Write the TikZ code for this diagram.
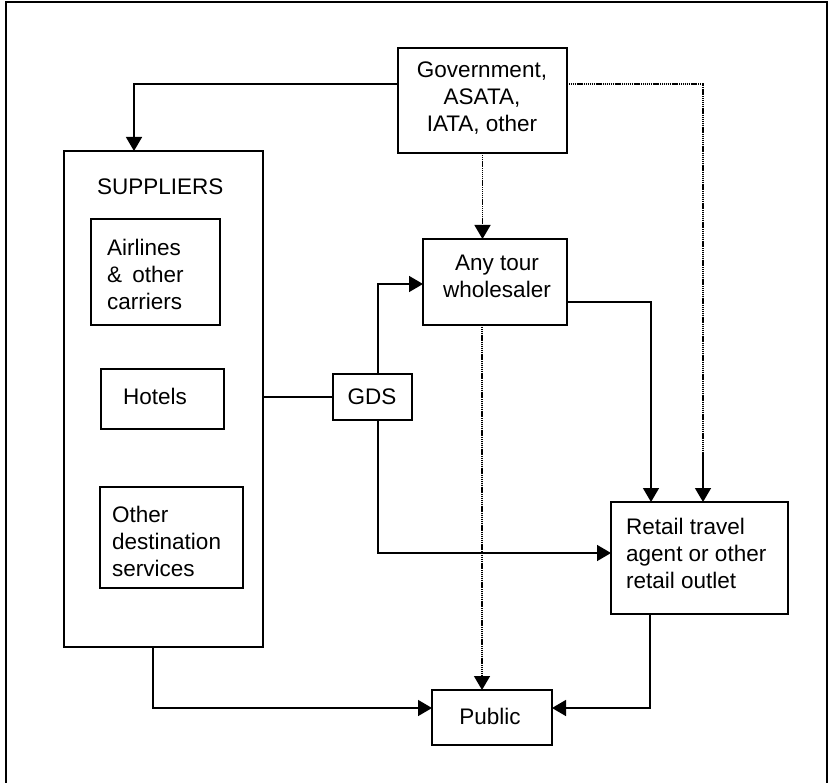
\documentclass[tikz,border=0pt]{standalone}
\usepackage{fontspec}
\setmainfont{Liberation Sans}
\usetikzlibrary{arrows.meta}
\begin{document}
\begin{tikzpicture}[x=1pt,y=-1pt,
  box/.style={draw,line width=1.5pt,inner sep=0pt,outer sep=0pt,anchor=north west},
  txt/.style={inner sep=0pt,font=\fontsize{22.5}{27}\selectfont},
  con/.style={line width=1.5pt},
  tip/.style={-{Triangle[length=14pt,width=16pt]}},
  arr/.style={con,tip},
  dots/.style={line width=1.5pt,dash pattern=on 1.2pt off 0.7pt}]
\useasboundingbox (0,0) rectangle (829,783);
\clip (0,0) rectangle (829,783);
\draw[line width=2pt] (6,800) -- (6,2) -- (827,2) -- (827,800);
% boxes
\node[box,minimum width=169pt,minimum height=105pt] (gov) at (398,48) {};
\node[box,minimum width=199pt,minimum height=496pt] (sup) at (64,151) {};
\node[box,minimum width=129pt,minimum height=106pt] (air) at (91,219) {};
\node[box,minimum width=123pt,minimum height=60pt] (hot) at (101,369) {};
\node[box,minimum width=143pt,minimum height=101pt] (oth) at (100,487) {};
\node[box,minimum width=79pt,minimum height=46pt] (gds) at (333,374) {};
\node[box,minimum width=144pt,minimum height=86pt] (whl) at (423,239) {};
\node[box,minimum width=177pt,minimum height=112pt] (ret) at (611,502) {};
\node[box,minimum width=120pt,minimum height=55pt] (pub) at (432,690) {};
% texts
\node[txt,align=center] (govt) at (482,98) {Government,\\ASATA,\\IATA, other};
\node[txt,anchor=west] (supt) at (97,187) {SUPPLIERS};
\node[txt,anchor=west,align=left] (airt) at (107,274) {Airlines\\\&\hspace{0.45em}other\\carriers};
\node[txt] (hott) at (155,396) {Hotels};
\node[txt,anchor=west,align=left] (otht) at (112,541) {Other\\destination\\services};
\node[txt] (gdst) at (372,397) {GDS};
\node[txt,align=center] (whlt) at (497,276) {Any tour\\wholesaler};
\node[txt,anchor=west,align=left] (rett) at (626,553) {Retail travel\\agent or other\\retail outlet};
\node[txt] (pubt) at (490,716) {Public};
% bend points
\coordinate (g1) at (398,84);
\coordinate (g2) at (134,84);
\coordinate (g3) at (567,84);
\coordinate (g4) at (703,84);
\coordinate (g5) at (703,452);
\coordinate (w1) at (567,302);
\coordinate (w2) at (651,302);
\coordinate (d1) at (378,284);
\coordinate (d2) at (378,553);
\coordinate (v1) at (482,500);
\coordinate (s1) at (153,708);
\coordinate (r1) at (650,708);
% connectors
\draw[arr] (g1) -- (g2) -- (g2 |- sup.north);
\draw[dots,tip] (gov.south) -- (gov.south |- whl.north);
\draw[dots] (g3) -- (g4) -- (g5);
\draw[arr] (g5) -- (g5 |- ret.north);
\draw[arr] (w1) -- (w2) -- (w2 |- ret.north);
\draw[con] (gds.west) -- (sup.east |- gds.west);
\draw[arr] (gds.north -| d1) -- (d1) -- (d1 -| whl.west);
\draw[arr] (gds.south -| d1) -- (d2) -- (d2 -| ret.west);
\draw[dots,tip] (whl.south -| v1) -- (v1 |- pub.north);
\draw[arr] (sup.south -| s1) -- (s1) -- (s1 -| pub.west);
\draw[arr] (ret.south -| r1) -- (r1) -- (r1 -| pub.east);
\end{tikzpicture}
\end{document}
